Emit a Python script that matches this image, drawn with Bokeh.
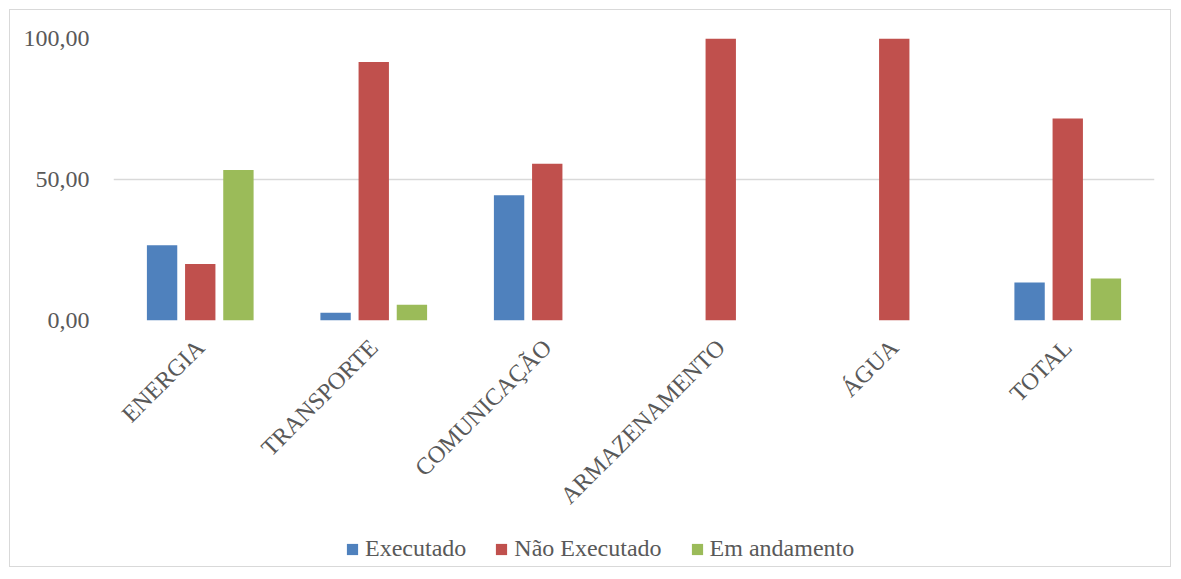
from bokeh.plotting import figure
from bokeh.layouts import column
from bokeh.models import FactorRange, Range1d, FixedTicker, Legend, LegendItem, ColumnDataSource
from bokeh.transform import dodge
from bokeh.embed import file_html
from bokeh.resources import INLINE

categories = ["ENERGIA", "TRANSPORTE", "COMUNICAÇÃO", "ARMAZENAMENTO", "ÁGUA", "TOTAL"]
executado = [26.67, 2.78, 44.44, 0.0, 0.0, 13.51]
nao_executado = [20.00, 91.67, 55.56, 100.0, 100.0, 71.62]
em_andamento = [53.33, 5.56, 0.0, 0.0, 0.0, 14.86]
series_names = ["Executado", "Não Executado", "Em andamento"]
colors = ["#4F81BD", "#C0504D", "#9BBB59"]
y_ticks = [0, 50, 100]
y_tick_labels = ["0,00", "50,00", "100,00"]

FONT = "Liberation Serif"
TEXT = "#595959"
GRID = "#D9D9D9"

source = ColumnDataSource(dict(cat=categories, ex=executado, ne=nao_executado, ea=em_andamento))

W = 1160
H_MAIN = 520
H_LEG = 36

p = figure(x_range=FactorRange(factors=categories, range_padding=0),
           y_range=Range1d(0, 100),
           width=W, height=H_MAIN, output_backend="svg", toolbar_location=None,
           min_border_left=103, min_border_right=16, min_border_top=28, min_border_bottom=210)

for field, off, col in zip(["ex", "ne", "ea"], [-0.22, 0.0, 0.22], colors):
    p.vbar(x=dodge("cat", off, range=p.x_range), top=field, bottom=0, width=0.175,
           source=source, fill_color=col, line_color=None)

p.outline_line_color = None
p.background_fill_color = "white"
p.border_fill_color = "white"
p.xgrid.grid_line_color = None
p.ygrid.grid_line_color = GRID
p.ygrid.grid_line_width = 1.5

p.yaxis.ticker = FixedTicker(ticks=y_ticks)
p.yaxis.major_label_overrides = {t: l for t, l in zip(y_ticks, y_tick_labels)}
p.yaxis.axis_line_color = None
p.yaxis.major_tick_line_color = None
p.yaxis.minor_tick_line_color = None
p.yaxis.major_label_standoff = 18

p.xaxis.axis_line_color = None
p.xaxis.major_tick_line_color = None
p.xaxis.major_label_orientation = 0.785398
p.xaxis.major_label_standoff = 17

for ax in (p.xaxis, p.yaxis):
    ax.major_label_text_font = FONT
    ax.major_label_text_font_size = "24px"
    ax.major_label_text_color = TEXT

# legend strip (frame aligned with the main plot's frame by the column layout)
pl = figure(width=W, height=H_LEG, output_backend="svg", toolbar_location=None,
            x_axis_type=None, y_axis_type=None, x_range=Range1d(0, 1), y_range=Range1d(0, 1),
            min_border_left=0, min_border_right=0, min_border_top=0, min_border_bottom=0)
pl.outline_line_color = None
pl.grid.grid_line_color = None
offscreen = ColumnDataSource(dict(x=[-5.0], top=[-5.0]))
leg_renderers = [pl.vbar(x="x", top="top", bottom=-6.0, width=0.1, source=offscreen,
                         fill_color=c, line_color=None)
                 for c in colors]
items = [LegendItem(label=n, renderers=[r], index=0) for n, r in zip(series_names, leg_renderers)]
legend = Legend(items=items, orientation="horizontal", location=(232, 4),
                label_text_font=FONT, label_text_font_size="24px", label_text_color=TEXT,
                glyph_width=14, glyph_height=14, label_standoff=6, spacing=28,
                padding=0, margin=0, border_line_color=None, background_fill_alpha=0)
pl.add_layout(legend, "center")

layout = column(p, pl, spacing=0)
layout.styles = {"border": "1px solid #D9D9D9", "margin": "9px 0 0 9px"}

open("out.html", "w").write(file_html(layout, INLINE))
